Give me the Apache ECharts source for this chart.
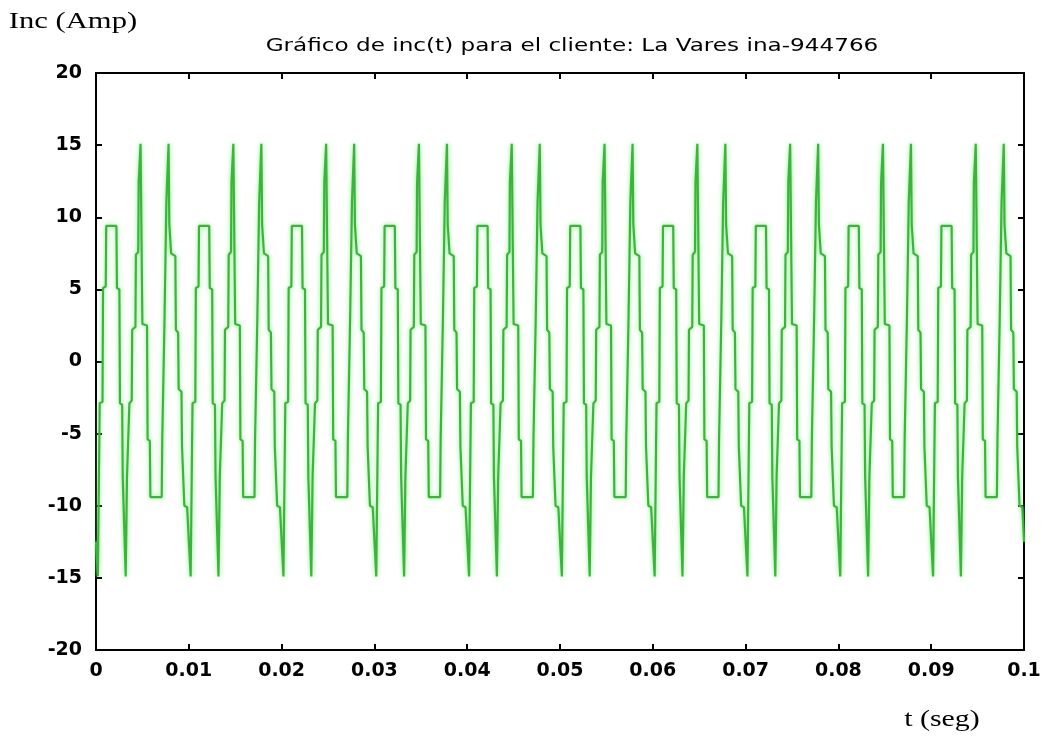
<!DOCTYPE html>
<html>
<head>
<meta charset="utf-8">
<title>inc(t)</title>
<script src="https://cdn.jsdelivr.net/npm/echarts@6/dist/echarts.min.js"></script>
<style>
  html, body { margin: 0; padding: 0; background: #fff; }
  #incChart { width: 1046px; height: 738px; }
</style>
</head>
<body>
<div id="incChart"></div>
<script>
// Gráfico de inc(t) -- corriente en Amp vs tiempo (ms en los datos, s en el eje)

const chartTitle = 'Gráfico de inc(t) para el cliente: La Vares ina-944766';
const yName = 'Inc (Amp)';
const xName = 't (seg)';

const xTicks = [0, 0.01, 0.02, 0.03, 0.04, 0.05, 0.06, 0.07, 0.08, 0.09, 0.1];
const yTicks = [-20, -15, -10, -5, 0, 5, 10, 15, 20];

// vertices, one line per 10 ms cycle
const timeMs = [
  0,
  0.20,0.40,0.70,0.76,1.05,1.10,2.20,2.26,2.52,2.58,2.82,2.88,3.05,3.20,3.34,3.55,3.60,3.85,3.90,4.25,4.30,4.55,4.60,4.80,5.00,5.50,5.56,5.80,5.86,7.08,7.14,7.32,7.38,7.52,7.58,7.82,7.90,8.10,8.55,8.61,8.85,8.91,9.21,9.27,9.46,9.52,9.82,
  10.20,10.40,10.70,10.76,11.05,11.10,12.20,12.26,12.52,12.58,12.82,12.88,13.05,13.20,13.34,13.55,13.60,13.85,13.90,14.25,14.30,14.55,14.60,14.80,15.00,15.50,15.56,15.80,15.86,17.08,17.14,17.32,17.38,17.52,17.58,17.82,17.90,18.10,18.55,18.61,18.85,18.91,19.21,19.27,19.46,19.52,19.82,
  20.20,20.40,20.70,20.76,21.05,21.10,22.20,22.26,22.52,22.58,22.82,22.88,23.05,23.20,23.34,23.55,23.60,23.85,23.90,24.25,24.30,24.55,24.60,24.80,25.00,25.50,25.56,25.80,25.86,27.08,27.14,27.32,27.38,27.52,27.58,27.82,27.90,28.10,28.55,28.61,28.85,28.91,29.21,29.27,29.46,29.52,29.82,
  30.20,30.40,30.70,30.76,31.05,31.10,32.20,32.26,32.52,32.58,32.82,32.88,33.05,33.20,33.34,33.55,33.60,33.85,33.90,34.25,34.30,34.55,34.60,34.80,35.00,35.50,35.56,35.80,35.86,37.08,37.14,37.32,37.38,37.52,37.58,37.82,37.90,38.10,38.55,38.61,38.85,38.91,39.21,39.27,39.46,39.52,39.82,
  40.20,40.40,40.70,40.76,41.05,41.10,42.20,42.26,42.52,42.58,42.82,42.88,43.05,43.20,43.34,43.55,43.60,43.85,43.90,44.25,44.30,44.55,44.60,44.80,45.00,45.50,45.56,45.80,45.86,47.08,47.14,47.32,47.38,47.52,47.58,47.82,47.90,48.10,48.55,48.61,48.85,48.91,49.21,49.27,49.46,49.52,49.82,
  50.20,50.40,50.70,50.76,51.05,51.10,52.20,52.26,52.52,52.58,52.82,52.88,53.05,53.20,53.34,53.55,53.60,53.85,53.90,54.25,54.30,54.55,54.60,54.80,55.00,55.50,55.56,55.80,55.86,57.08,57.14,57.32,57.38,57.52,57.58,57.82,57.90,58.10,58.55,58.61,58.85,58.91,59.21,59.27,59.46,59.52,59.82,
  60.20,60.40,60.70,60.76,61.05,61.10,62.20,62.26,62.52,62.58,62.82,62.88,63.05,63.20,63.34,63.55,63.60,63.85,63.90,64.25,64.30,64.55,64.60,64.80,65.00,65.50,65.56,65.80,65.86,67.08,67.14,67.32,67.38,67.52,67.58,67.82,67.90,68.10,68.55,68.61,68.85,68.91,69.21,69.27,69.46,69.52,69.82,
  70.20,70.40,70.70,70.76,71.05,71.10,72.20,72.26,72.52,72.58,72.82,72.88,73.05,73.20,73.34,73.55,73.60,73.85,73.90,74.25,74.30,74.55,74.60,74.80,75.00,75.50,75.56,75.80,75.86,77.08,77.14,77.32,77.38,77.52,77.58,77.82,77.90,78.10,78.55,78.61,78.85,78.91,79.21,79.27,79.46,79.52,79.82,
  80.20,80.40,80.70,80.76,81.05,81.10,82.20,82.26,82.52,82.58,82.82,82.88,83.05,83.20,83.34,83.55,83.60,83.85,83.90,84.25,84.30,84.55,84.60,84.80,85.00,85.50,85.56,85.80,85.86,87.08,87.14,87.32,87.38,87.52,87.58,87.82,87.90,88.10,88.55,88.61,88.85,88.91,89.21,89.27,89.46,89.52,89.82,
  90.20,90.40,90.70,90.76,91.05,91.10,92.20,92.26,92.52,92.58,92.82,92.88,93.05,93.20,93.34,93.55,93.60,93.85,93.90,94.25,94.30,94.55,94.60,94.80,95.00,95.50,95.56,95.80,95.86,97.08,97.14,97.32,97.38,97.52,97.58,97.82,97.90,98.10,98.55,98.61,98.85,98.91,99.21,99.27,99.46,99.52,99.82,
  100
];

const incAmp = [
  -12.5,
  -14.9,-2.9,-2.8,5.1,5.2,9.4,9.4,5.1,5.0,-2.9,-3.0,-8.0,-8.1,-14.9,-8.0,-7.9,-2.9,-2.7,2.2,2.4,7.4,7.6,12.4,15.1,2.6,2.5,-5.4,-5.5,-9.4,-9.4,-5.4,-5.3,2.8,2.9,11.0,15.1,9.5,7.5,7.3,2.2,2.0,-1.9,-2.1,-5.9,-6.0,-10.0,-10.1,
  -14.9,-2.9,-2.8,5.1,5.2,9.4,9.4,5.1,5.0,-2.9,-3.0,-8.0,-8.1,-14.9,-8.0,-7.9,-2.9,-2.7,2.2,2.4,7.4,7.6,12.4,15.1,2.6,2.5,-5.4,-5.5,-9.4,-9.4,-5.4,-5.3,2.8,2.9,11.0,15.1,9.5,7.5,7.3,2.2,2.0,-1.9,-2.1,-5.9,-6.0,-10.0,-10.1,
  -14.9,-2.9,-2.8,5.1,5.2,9.4,9.4,5.1,5.0,-2.9,-3.0,-8.0,-8.1,-14.9,-8.0,-7.9,-2.9,-2.7,2.2,2.4,7.4,7.6,12.4,15.1,2.6,2.5,-5.4,-5.5,-9.4,-9.4,-5.4,-5.3,2.8,2.9,11.0,15.1,9.5,7.5,7.3,2.2,2.0,-1.9,-2.1,-5.9,-6.0,-10.0,-10.1,
  -14.9,-2.9,-2.8,5.1,5.2,9.4,9.4,5.1,5.0,-2.9,-3.0,-8.0,-8.1,-14.9,-8.0,-7.9,-2.9,-2.7,2.2,2.4,7.4,7.6,12.4,15.1,2.6,2.5,-5.4,-5.5,-9.4,-9.4,-5.4,-5.3,2.8,2.9,11.0,15.1,9.5,7.5,7.3,2.2,2.0,-1.9,-2.1,-5.9,-6.0,-10.0,-10.1,
  -14.9,-2.9,-2.8,5.1,5.2,9.4,9.4,5.1,5.0,-2.9,-3.0,-8.0,-8.1,-14.9,-8.0,-7.9,-2.9,-2.7,2.2,2.4,7.4,7.6,12.4,15.1,2.6,2.5,-5.4,-5.5,-9.4,-9.4,-5.4,-5.3,2.8,2.9,11.0,15.1,9.5,7.5,7.3,2.2,2.0,-1.9,-2.1,-5.9,-6.0,-10.0,-10.1,
  -14.9,-2.9,-2.8,5.1,5.2,9.4,9.4,5.1,5.0,-2.9,-3.0,-8.0,-8.1,-14.9,-8.0,-7.9,-2.9,-2.7,2.2,2.4,7.4,7.6,12.4,15.1,2.6,2.5,-5.4,-5.5,-9.4,-9.4,-5.4,-5.3,2.8,2.9,11.0,15.1,9.5,7.5,7.3,2.2,2.0,-1.9,-2.1,-5.9,-6.0,-10.0,-10.1,
  -14.9,-2.9,-2.8,5.1,5.2,9.4,9.4,5.1,5.0,-2.9,-3.0,-8.0,-8.1,-14.9,-8.0,-7.9,-2.9,-2.7,2.2,2.4,7.4,7.6,12.4,15.1,2.6,2.5,-5.4,-5.5,-9.4,-9.4,-5.4,-5.3,2.8,2.9,11.0,15.1,9.5,7.5,7.3,2.2,2.0,-1.9,-2.1,-5.9,-6.0,-10.0,-10.1,
  -14.9,-2.9,-2.8,5.1,5.2,9.4,9.4,5.1,5.0,-2.9,-3.0,-8.0,-8.1,-14.9,-8.0,-7.9,-2.9,-2.7,2.2,2.4,7.4,7.6,12.4,15.1,2.6,2.5,-5.4,-5.5,-9.4,-9.4,-5.4,-5.3,2.8,2.9,11.0,15.1,9.5,7.5,7.3,2.2,2.0,-1.9,-2.1,-5.9,-6.0,-10.0,-10.1,
  -14.9,-2.9,-2.8,5.1,5.2,9.4,9.4,5.1,5.0,-2.9,-3.0,-8.0,-8.1,-14.9,-8.0,-7.9,-2.9,-2.7,2.2,2.4,7.4,7.6,12.4,15.1,2.6,2.5,-5.4,-5.5,-9.4,-9.4,-5.4,-5.3,2.8,2.9,11.0,15.1,9.5,7.5,7.3,2.2,2.0,-1.9,-2.1,-5.9,-6.0,-10.0,-10.1,
  -14.9,-2.9,-2.8,5.1,5.2,9.4,9.4,5.1,5.0,-2.9,-3.0,-8.0,-8.1,-14.9,-8.0,-7.9,-2.9,-2.7,2.2,2.4,7.4,7.6,12.4,15.1,2.6,2.5,-5.4,-5.5,-9.4,-9.4,-5.4,-5.3,2.8,2.9,11.0,15.1,9.5,7.5,7.3,2.2,2.0,-1.9,-2.1,-5.9,-6.0,-10.0,-10.1,
  -12.5
];

const myChart = echarts.init(document.getElementById('incChart'));

const lineData = [];
for (let i = 0; i < timeMs.length; i++) {
  lineData.push([timeMs[i] / 1000, incAmp[i]]);
}

const axisBlack = { color: '#000', width: 2 };
const tickFont = { color: '#000', fontFamily: 'DejaVu Sans', fontWeight: 'bold', fontSize: 19 };

function xAxisOf(pos, labels) {
  return {
    type: 'value',
    position: pos,
    min: xTicks[0],
    max: xTicks[xTicks.length - 1],
    interval: 0.01,
    axisLine: { show: true, onZero: false, lineStyle: axisBlack },
    axisTick: { show: true, inside: true, length: 6, lineStyle: axisBlack },
    axisLabel: Object.assign({
      show: labels,
      margin: 12,
      formatter: function (v) { return String(Number(v.toFixed(2))); },
    }, tickFont),
    splitLine: { show: false },
  };
}

function yAxisOf(pos, labels) {
  return {
    type: 'value',
    position: pos,
    min: yTicks[0],
    max: yTicks[yTicks.length - 1],
    interval: 5,
    axisLine: { show: true, onZero: false, lineStyle: axisBlack },
    axisTick: { show: true, inside: true, length: 6, lineStyle: axisBlack },
    axisLabel: Object.assign({ show: labels, margin: 14 }, tickFont),
    splitLine: { show: false },
  };
}

const option = {
  animation: false,
  backgroundColor: '#fff',
  grid: { left: 96, right: 22, top: 73, bottom: 88 },
  xAxis: [xAxisOf('bottom', true), xAxisOf('top', false)],
  yAxis: [yAxisOf('left', true), yAxisOf('right', false)],
  graphic: [
    {
      type: 'text', x: 73, y: 22, scaleX: 1.33,
      style: { text: yName, fill: '#000', font: '23px "Liberation Serif"', textAlign: 'center', textVerticalAlign: 'middle' },
    },
    {
      type: 'text', x: 572, y: 47, scaleX: 1.36,
      style: { text: chartTitle, fill: '#000', font: '17px "DejaVu Sans"', textAlign: 'center', textVerticalAlign: 'middle' },
    },
    {
      type: 'text', x: 942, y: 720, scaleX: 1.3,
      style: { text: xName, fill: '#000', font: '23px "Liberation Serif"', textAlign: 'center', textVerticalAlign: 'middle' },
    },
  ],
  series: [
    {
      name: 'inc',
      type: 'line',
      xAxisIndex: 0,
      yAxisIndex: 0,
      data: lineData,
      showSymbol: false,
      symbol: 'none',
      silent: true,
      lineStyle: {
        color: '#3cb43c',
        width: 2.2,
        shadowColor: 'rgba(110, 235, 110, 0.9)',
        shadowBlur: 4,
      },
    },
  ],
};
myChart.setOption(option);
</script>
</body>
</html>
